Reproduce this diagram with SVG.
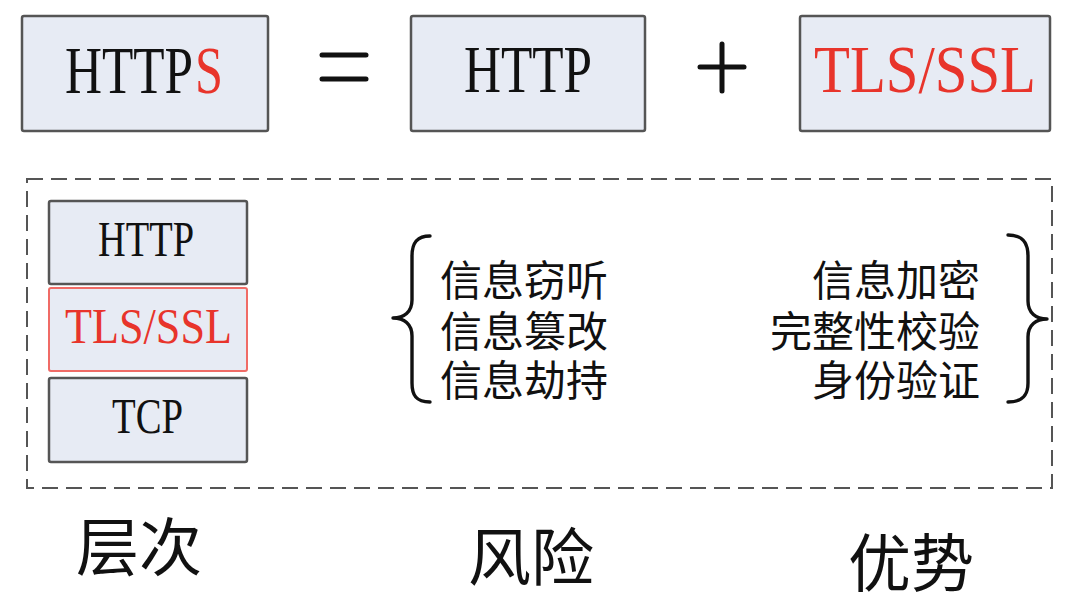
<svg xmlns="http://www.w3.org/2000/svg" width="1086" height="616" viewBox="0 0 1086 616">
<style>
.box{fill:#e7ebf4;stroke:#555;stroke-width:2.5}
.rbox{fill:#e7ebf4;stroke:#f06b66;stroke-width:2}
.serif{font-family:"Liberation Serif","Times New Roman",serif;fill:#111}
.red{fill:#e8342b}
.cjk{font-family:"Noto Sans CJK SC","Noto Sans",sans-serif;fill:#111}
.op{stroke:#111;stroke-width:5;stroke-linecap:round;fill:none}
.brace{fill:none;stroke:#111;stroke-width:3.4;stroke-linecap:round;stroke-linejoin:round}
</style>
<rect width="1086" height="616" fill="#fff"/>
<g id="https">
<rect class="box" x="22" y="16" width="246" height="115" rx="2"/>
<text class="serif" x="65" y="93" font-size="67" textLength="128" lengthAdjust="spacingAndGlyphs">HTTP</text>
<text class="serif red" x="195" y="93" font-size="67" textLength="28" lengthAdjust="spacingAndGlyphs">S</text>
</g>
<g id="equals">
<line class="op" x1="322" y1="55" x2="366" y2="55"/>
<line class="op" x1="322" y1="79" x2="366" y2="79"/>
</g>
<g id="http-top">
<rect class="box" x="411" y="16" width="234" height="115" rx="2"/>
<text class="serif" x="464" y="92" font-size="67" textLength="128" lengthAdjust="spacingAndGlyphs">HTTP</text>
</g>
<g id="plus">
<line class="op" x1="700" y1="67" x2="744" y2="67"/>
<line class="op" x1="722" y1="44" x2="722" y2="91"/>
</g>
<g id="tls-top">
<rect class="box" x="800" y="16" width="250" height="115" rx="2"/>
<text class="serif red" x="814" y="92" font-size="67" textLength="222" lengthAdjust="spacingAndGlyphs">TLS/SSL</text>
</g>
<g id="frame">
<rect x="27" y="179" width="1025" height="309" fill="none" stroke="#555" stroke-width="2" stroke-dasharray="16 8"/>
</g>
<g id="layer-http">
<rect class="box" x="49" y="201" width="198" height="83" rx="2"/>
<text class="serif" x="98" y="256" font-size="50" textLength="96" lengthAdjust="spacingAndGlyphs">HTTP</text>
</g>
<g id="layer-tls">
<rect class="rbox" x="49" y="288" width="198" height="83" rx="2"/>
<text class="serif red" x="65" y="343" font-size="50" textLength="167" lengthAdjust="spacingAndGlyphs">TLS/SSL</text>
</g>
<g id="layer-tcp">
<rect class="box" x="49" y="378" width="198" height="84" rx="2"/>
<text class="serif" x="112" y="433" font-size="50" textLength="71" lengthAdjust="spacingAndGlyphs">TCP</text>
</g>
<g id="risks">
<path class="brace" d="M430,236 C416,236 412,244 412,256 L412,300 C412,312 404,318 393,318 C404,318 412,324 412,336 L412,383 C412,395 416,402 430,402"/>
<text class="cjk" x="440" y="296" font-size="42">信息窃听</text>
<text class="cjk" x="440" y="347" font-size="42">信息篡改</text>
<text class="cjk" x="440" y="396" font-size="42">信息劫持</text>
</g>
<g id="benefits">
<text class="cjk red" x="980" y="296" font-size="42" text-anchor="end">信息加密</text>
<text class="cjk red" x="980" y="347" font-size="42" text-anchor="end">完整性校验</text>
<text class="cjk red" x="980" y="396" font-size="42" text-anchor="end">身份验证</text>
<path class="brace" d="M1008,235 C1023,235 1028,243 1028,256 L1028,301 C1028,313 1036,319 1047,319 C1036,319 1028,325 1028,337 L1028,383 C1028,395 1023,402 1008,402"/>
</g>
<g id="labels">
<text class="cjk" x="76" y="570" font-size="63">层次</text>
<text class="cjk" x="468" y="580" font-size="63">风险</text>
<text class="cjk" x="848" y="586" font-size="63">优势</text>
</g>
</svg>
